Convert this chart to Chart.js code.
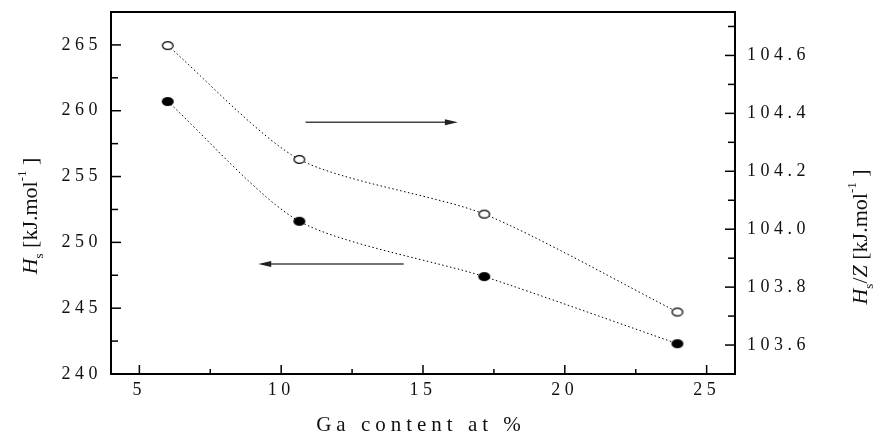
<!DOCTYPE html>
<html>
<head>
<meta charset="utf-8">
<script src="https://cdn.jsdelivr.net/npm/chart.js@4.4.0/dist/chart.umd.min.js"></script>
<style>
  html, body { margin: 0; padding: 0; background: #fff; }
  #wrap { width: 873px; height: 439px; position: relative; }
</style>
</head>
<body>
<div id="wrap"><canvas id="chart"></canvas></div>
<script>
// Ga content, at %
const gaContent = [6.0, 10.64, 17.16, 23.97];
// H_s on the left axis, kJ/mol (filled circles)
const hsValues = [260.7, 251.6, 247.4, 242.3];
// H_s/Z on the right axis, kJ/mol (open circles)
const hsZValues = [104.634, 104.241, 104.052, 103.714];

// labelled ticks
const xTickLabels = [5, 10, 15, 20, 25];
const leftTickLabels = [240, 245, 250, 255, 260, 265];
const rightTickLabels = ['103.6', '103.8', '104.0', '104.2', '104.4', '104.6'];

// the two arrows telling which curve goes with which axis
const arrows = [
  { axis: 'y1', x0: 10.86, x1: 16.23, y: 104.369 },
  { axis: 'y', x0: 14.32, x1: 9.19, y: 248.36 }
];

const serif = '"Liberation Serif", "Times New Roman", serif';
const ink = '#111';

function makeMarker(filled) {
  const c = document.createElement('canvas');
  c.width = 14; c.height = 11;
  const g = c.getContext('2d');
  g.beginPath();
  g.ellipse(7, 5.5, filled ? 6 : 5.3, filled ? 4.6 : 3.9, 0, 0, Math.PI * 2);
  if (filled) {
    g.fillStyle = '#000'; g.fill();
  } else {
    g.fillStyle = '#fff'; g.fill();
    g.lineWidth = 1.3; g.strokeStyle = '#000'; g.stroke();
  }
  return c;
}

// text with sub/superscripts, centred on (x, y) and rotated
function richText(ctx, parts, x, y, rot) {
  ctx.save();
  ctx.translate(x, y);
  ctx.rotate(rot);
  ctx.textBaseline = 'alphabetic';
  ctx.textAlign = 'left';
  ctx.fillStyle = ink;
  let total = 0;
  parts.forEach(p => { ctx.font = p.font; total += ctx.measureText(p.t).width; });
  let cx = -total / 2;
  parts.forEach(p => {
    ctx.font = p.font;
    ctx.fillText(p.t, cx, p.dy || 0);
    cx += ctx.measureText(p.t).width;
  });
  ctx.restore();
}

const big = '22px ' + serif;
const bigIt = 'italic 22px ' + serif;
const small = '13px ' + serif;

const axisFrame = {
  id: 'axisFrame',
  beforeDraw(chart) {
    chart.ctx.letterSpacing = '4.5px';
  },
  afterDraw(chart) {
    const { ctx, chartArea: a, scales } = chart;
    ctx.save();
    ctx.letterSpacing = '0px';
    ctx.strokeStyle = '#000';
    ctx.lineWidth = 1.5;
    const seg = (x1, y1, x2, y2) => { ctx.beginPath(); ctx.moveTo(x1, y1); ctx.lineTo(x2, y2); ctx.stroke(); };

    // inward tick marks
    scales.x.ticks.forEach(t => {
      const px = scales.x.getPixelForValue(t.value);
      seg(px, a.bottom, px, a.bottom - (t.label ? 9 : 5));
    });
    scales.y.ticks.forEach(t => {
      const py = scales.y.getPixelForValue(t.value);
      seg(a.left, py, a.left + (t.label ? 10 : 7), py);
    });
    scales.y1.ticks.forEach(t => {
      const py = scales.y1.getPixelForValue(t.value);
      seg(a.right, py, a.right - (t.label ? 10 : 7), py);
    });

    // frame
    ctx.lineWidth = 2;
    ctx.strokeRect(a.left, a.top, a.right - a.left, a.bottom - a.top);

    // arrows
    ctx.strokeStyle = '#444';
    ctx.fillStyle = '#222';
    ctx.lineWidth = 1.5;
    arrows.forEach(ar => {
      const x0 = scales.x.getPixelForValue(ar.x0);
      const x1 = scales.x.getPixelForValue(ar.x1);
      const py = scales[ar.axis].getPixelForValue(ar.y);
      const dir = Math.sign(x1 - x0);
      seg(x0, py, x1 - dir * 10, py);
      ctx.beginPath();
      ctx.moveTo(x1, py);
      ctx.lineTo(x1 - dir * 13, py - 3);
      ctx.lineTo(x1 - dir * 13, py + 3);
      ctx.closePath();
      ctx.fill();
    });

    // axis titles
    ctx.fillStyle = ink;
    ctx.font = '21px ' + serif;
    ctx.letterSpacing = '5px';
    ctx.textAlign = 'center';
    ctx.textBaseline = 'alphabetic';
    ctx.fillText('Ga content at %', 421, 431);
    ctx.letterSpacing = '0px';

    richText(ctx, [
      { t: 'H', font: bigIt },
      { t: 's', font: small, dy: 6 },
      { t: ' [kJ.mol', font: big },
      { t: '-1', font: small, dy: -11 },
      { t: ' ]', font: big }
    ], 37, 216, -Math.PI / 2);

    richText(ctx, [
      { t: 'H', font: bigIt },
      { t: 's', font: small, dy: 6 },
      { t: '/', font: big },
      { t: 'Z', font: bigIt },
      { t: ' [kJ.mol', font: big },
      { t: '-1', font: small, dy: -11 },
      { t: ' ]', font: big }
    ], 867, 237, -Math.PI / 2);

    ctx.restore();
  }
};

// every multiple of step between the axis limits
const stepTicks = step => s => {
  const out = [];
  for (let k = Math.ceil(s.min / step - 1e-9); k * step <= s.max + 1e-9; k++) {
    out.push({ value: +(k * step).toFixed(6) });
  }
  s.ticks = out;
};

const noPad = w => s => {
  if (w.width !== undefined) s.width = w.width;
  if (w.height !== undefined) s.height = w.height;
  s.paddingTop = 0; s.paddingBottom = 0; s.paddingLeft = 0; s.paddingRight = 0;
};

const tickFont = { family: serif, size: 18 };

new Chart(document.getElementById('chart'), {
  type: 'line',
  data: {
    datasets: [
      {
        label: 'Hs',
        data: gaContent.map((x, i) => ({ x, y: hsValues[i] })),
        yAxisID: 'y',
        borderColor: '#000',
        borderWidth: 1,
        borderDash: [1.5, 2.5],
        tension: 0.25,
        pointStyle: makeMarker(true),
        pointRadius: 6
      },
      {
        label: 'Hs/Z',
        data: gaContent.map((x, i) => ({ x, y: hsZValues[i] })),
        yAxisID: 'y1',
        borderColor: '#000',
        borderWidth: 1,
        borderDash: [1.5, 2.5],
        tension: 0.25,
        pointStyle: makeMarker(false),
        pointRadius: 6
      }
    ]
  },
  options: {
    responsive: true,
    maintainAspectRatio: false,
    animation: false,
    layout: { padding: { top: 12, left: 0, right: 0, bottom: 0 } },
    plugins: { legend: { display: false }, tooltip: { enabled: false } },
    scales: {
      x: {
        type: 'linear',
        min: 4,
        max: 26,
        afterBuildTicks: stepTicks(2.5),
        afterFit: noPad({ height: 65 }),
        grid: { display: false, drawTicks: false },
        border: { display: false },
        ticks: {
          autoSkip: false,
          maxRotation: 0,
          padding: 5,
          color: ink,
          font: tickFont,
          callback: v => xTickLabels.includes(Math.round(v * 100) / 100) ? String(Math.round(v)) : ''
        }
      },
      y: {
        position: 'left',
        min: 240,
        max: 267.5,
        afterBuildTicks: stepTicks(2.5),
        afterFit: noPad({ width: 111 }),
        grid: { display: false, drawTicks: false },
        border: { display: false },
        ticks: {
          autoSkip: false,
          padding: 9,
          color: ink,
          font: tickFont,
          callback: v => leftTickLabels.includes(Math.round(v * 100) / 100) ? String(Math.round(v)) : ''
        }
      },
      y1: {
        position: 'right',
        min: 103.5,
        max: 104.75,
        afterBuildTicks: stepTicks(0.1),
        afterFit: noPad({ width: 138 }),
        grid: { display: false, drawTicks: false },
        border: { display: false },
        ticks: {
          autoSkip: false,
          padding: 12,
          color: ink,
          font: tickFont,
          callback: v => {
            const s = Number(v).toFixed(1);
            return rightTickLabels.includes(s) ? s : '';
          }
        }
      }
    }
  },
  plugins: [axisFrame]
});
</script>
</body>
</html>
